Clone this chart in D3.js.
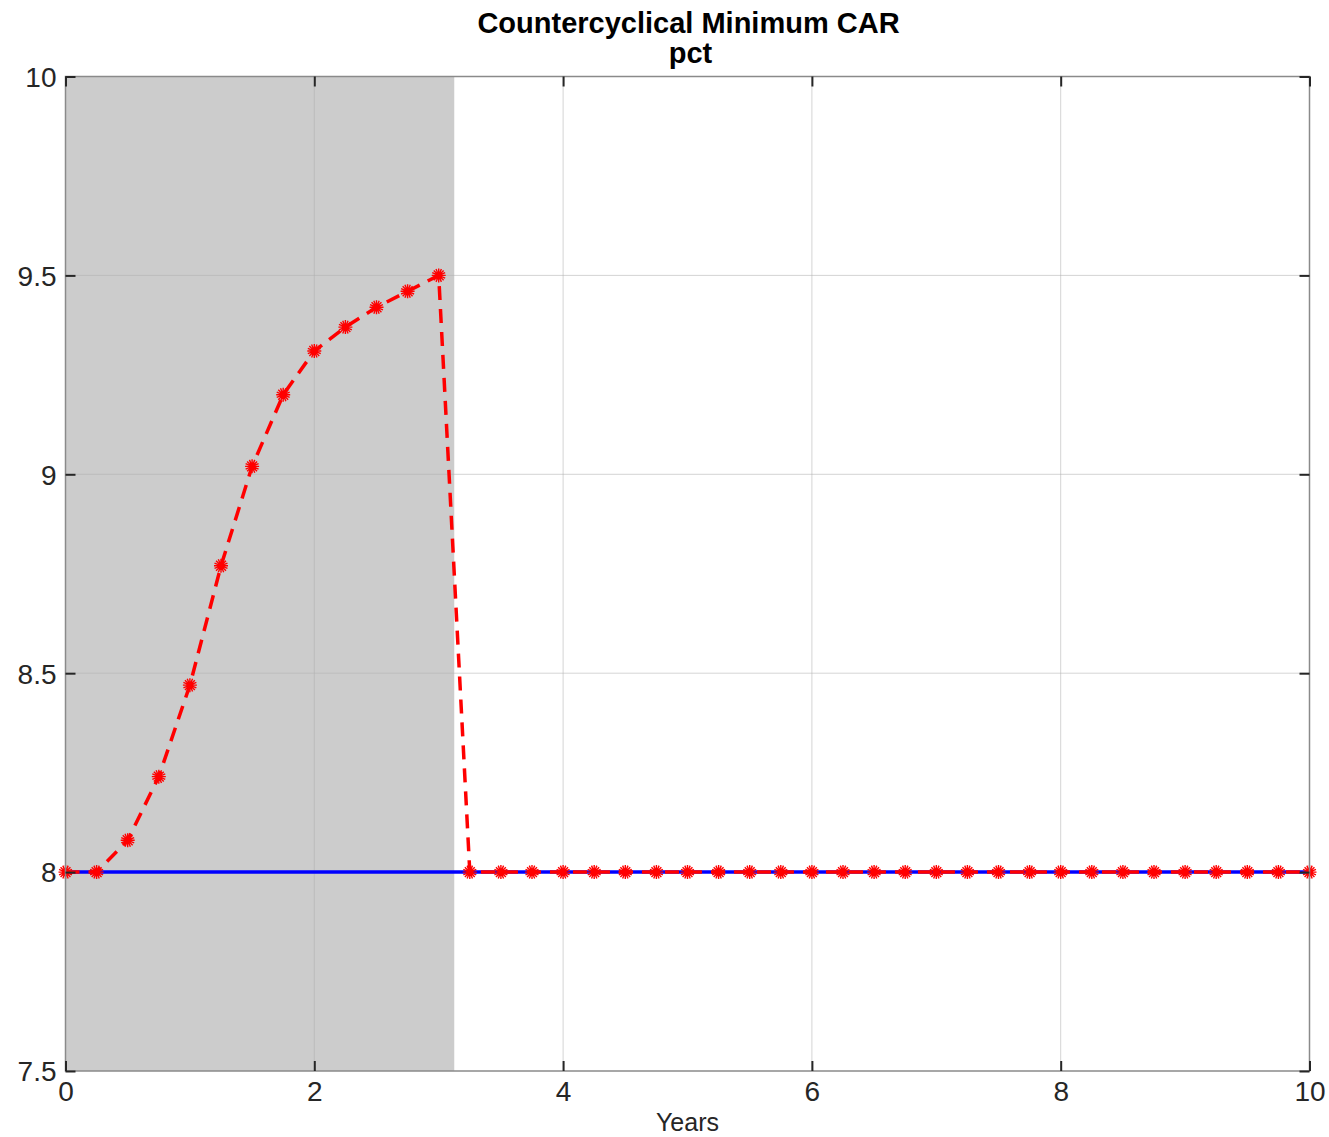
<!DOCTYPE html>
<html><head><meta charset="utf-8">
<script src="https://cdn.jsdelivr.net/npm/d3@7"></script>
<style>body{margin:0;background:#fff;} text{font-family:"Liberation Sans",Arial,sans-serif;}</style>
</head><body>
<svg id="c" width="1329" height="1137"></svg>
<script>
const years = [0,0.25,0.5,0.75,1,1.25,1.5,1.75,2,2.25,2.5,2.75,3,3.25,3.5,3.75,4,4.25,4.5,4.75,5,5.25,5.5,5.75,6,6.25,6.5,6.75,7,7.25,7.5,7.75,8,8.25,8.5,8.75,9,9.25,9.5,9.75,10];
const policy = [8,8,8.08,8.24,8.47,8.77,9.02,9.20,9.31,9.37,9.42,9.46,9.50,8,8,8,8,8,8,8,8,8,8,8,8,8,8,8,8,8,8,8,8,8,8,8,8,8,8,8,8];
const baseline = years.map(()=>8);
const shadeRange = [0, 3.125];
const xTicks = [0,2,4,6,8,10];
const yTicks = [7.5,8,8.5,9,9.5,10];
const titleLines = ["Countercyclical Minimum CAR","pct"];
const xLabel = "Years";

const svg = d3.select("#c");
const L=65.5, R=1309.5, T=76.5, B=1071;
const x = d3.scaleLinear().domain([0,10]).range([L,R]);
const y = d3.scaleLinear().domain([7.5,10]).range([B,T]);

svg.append("rect").attr("x",L).attr("y",T).attr("width",R-L).attr("height",B-T).attr("fill","#fff");
svg.append("rect").attr("x",x(shadeRange[0])).attr("y",T).attr("width",x(shadeRange[1])-x(shadeRange[0])).attr("height",B-T).attr("fill","#cccccc");

// grid
const g = svg.append("g");
g.selectAll(".gx").data(xTicks.slice(1,-1)).enter().append("line")
 .attr("x1",d=>x(d)).attr("x2",d=>x(d)).attr("y1",T).attr("y2",B)
 .attr("stroke","#b0b0b0").attr("stroke-opacity",0.55).attr("stroke-width",1);
g.selectAll(".gy").data(yTicks.slice(1,-1)).enter().append("line")
 .attr("y1",d=>y(d)).attr("y2",d=>y(d)).attr("x1",L).attr("x2",R)
 .attr("stroke","#b0b0b0").attr("stroke-opacity",0.55).attr("stroke-width",1);

// lines
svg.append("path").datum(years.map((d,i)=>[d,baseline[i]]))
 .attr("d",d3.line().x(d=>x(d[0])).y(d=>y(d[1])))
 .attr("fill","none").attr("stroke","#0000ff").attr("stroke-width",3.5);
svg.append("path").datum(years.map((d,i)=>[d,policy[i]]))
 .attr("d",d3.line().x(d=>x(d[0])).y(d=>y(d[1])))
 .attr("fill","none").attr("stroke","#ff0000").attr("stroke-width",3.5)
 .attr("stroke-dasharray","14,9");
// asterisk markers
const r=7;
const angles = d3.range(0,180,22.5);
const star = angles.map(a=>{const t=a*Math.PI/180;const c=Math.cos(t)*r,s=Math.sin(t)*r;return `M${-c},${-s}L${c},${s}`;}).join("");
svg.selectAll(".mk").data(years.map((d,i)=>[d,policy[i]])).enter().append("path")
 .attr("transform",d=>`translate(${x(d[0])},${y(d[1])})`)
 .attr("d",star).attr("stroke","#ff0000").attr("stroke-width",1.4).attr("fill","none");
svg.selectAll(".mkc").data(years.map((d,i)=>[d,policy[i]])).enter().append("circle")
 .attr("cx",d=>x(d[0])).attr("cy",d=>y(d[1])).attr("r",3).attr("fill","#ff0000");

// frame
svg.append("rect").attr("x",L).attr("y",T).attr("width",R-L).attr("height",B-T)
 .attr("fill","none").attr("stroke","#8a8a8a").attr("stroke-width",1.5);

// axes
const tk=10;
const axB = svg.append("g").attr("transform",`translate(0,${B})`).call(d3.axisBottom(x).tickValues(xTicks).tickSize(-tk).tickFormat(d3.format("d")));
const axT = svg.append("g").attr("transform",`translate(0,${T})`).call(d3.axisTop(x).tickValues(xTicks).tickSize(-tk).tickFormat(""));
const axL = svg.append("g").attr("transform",`translate(${L},0)`).call(d3.axisLeft(y).tickValues(yTicks).tickSize(-tk).tickFormat(d=>d%1===0?d3.format("d")(d):d3.format(".1f")(d)));
const axR = svg.append("g").attr("transform",`translate(${R},0)`).call(d3.axisRight(y).tickValues(yTicks).tickSize(-tk).tickFormat(""));
[axB,axT,axL,axR].forEach(a=>{a.select(".domain").remove();a.selectAll("line").attr("stroke","#262626").attr("stroke-width",2);});
axB.selectAll("text").attr("font-size",28).attr("fill","#262626").attr("dy","0.71em").attr("y",10);
axL.selectAll("text").attr("font-size",28).attr("fill","#262626").attr("x",-9).attr("dy","0.35em");

// title
svg.append("text").attr("x",(L+R)/2+1).attr("y",33).attr("text-anchor","middle").attr("font-size",29).attr("font-weight","bold").attr("fill","#000").text(titleLines[0]);
svg.append("text").attr("x",(L+R)/2+3).attr("y",63).attr("text-anchor","middle").attr("font-size",29).attr("font-weight","bold").attr("fill","#000").text(titleLines[1]);
svg.append("text").attr("x",(L+R)/2).attr("y",1131).attr("text-anchor","middle").attr("font-size",25).attr("fill","#262626").text(xLabel);
</script>
</body></html>
